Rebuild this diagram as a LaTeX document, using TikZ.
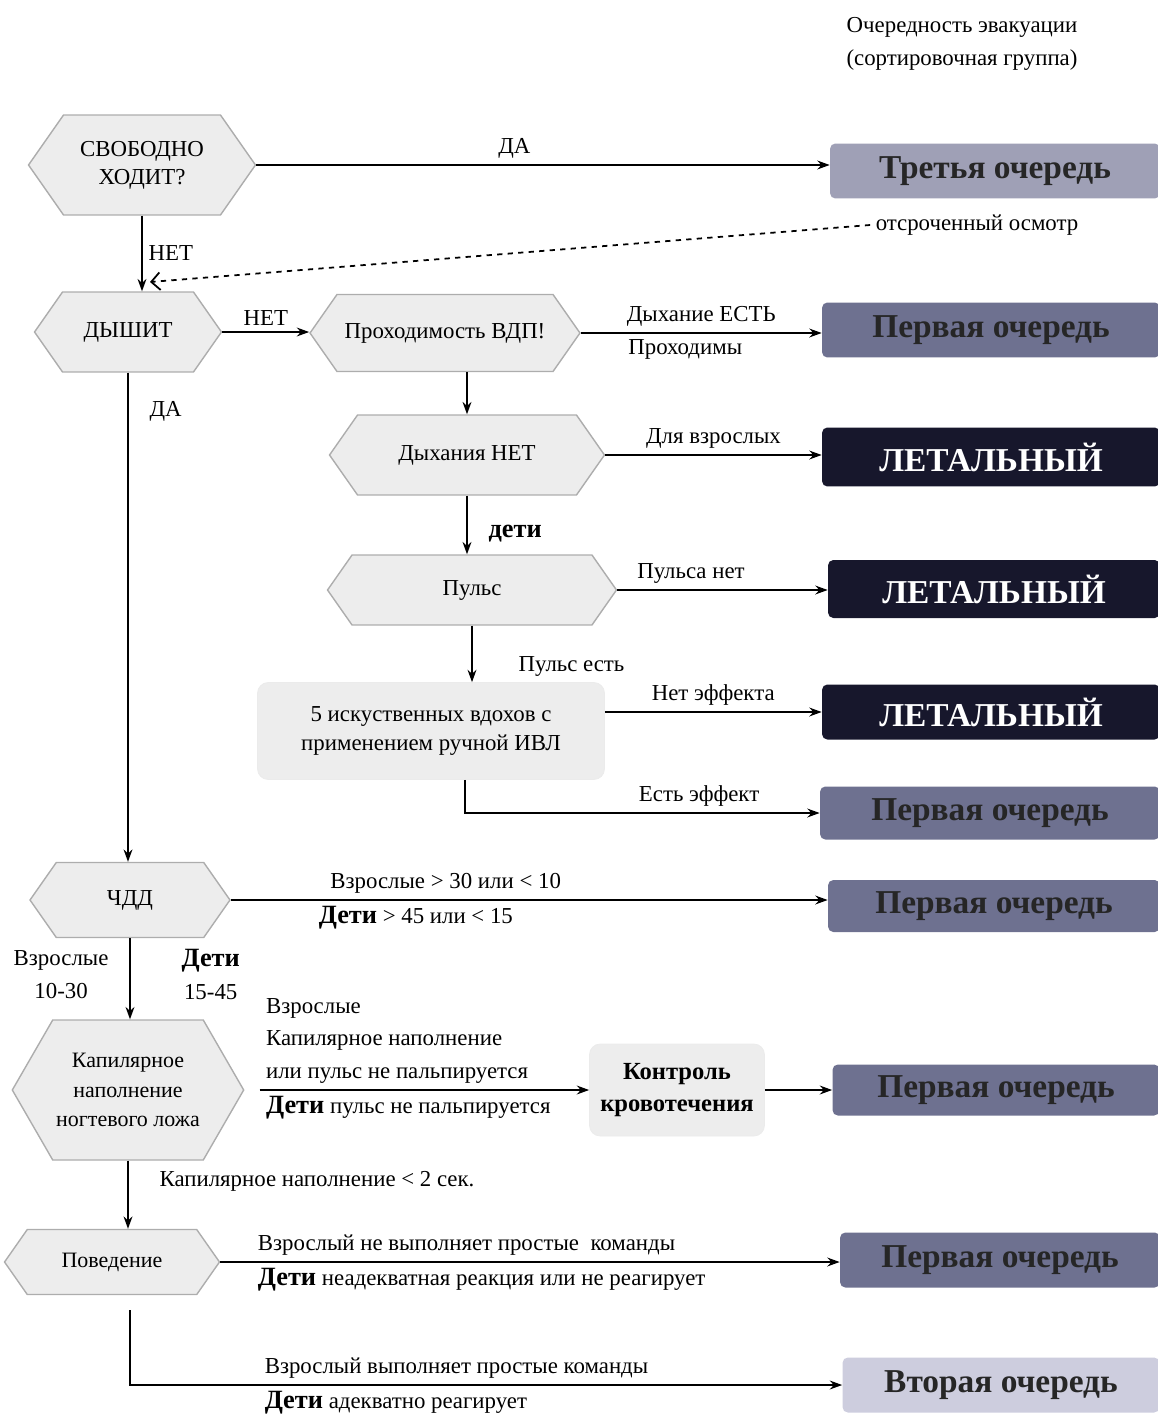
\documentclass[tikz,border=0pt]{standalone}
\usepackage{fontspec}
\setmainfont{Liberation Serif}
\usetikzlibrary{positioning}
\usetikzlibrary{calc}
\usetikzlibrary{shapes.symbols}
\usetikzlibrary{arrows.meta}

\definecolor{hexfill}{HTML}{EDEDED}
\definecolor{hexline}{HTML}{ADADAD}
\definecolor{thirdq}{HTML}{9FA0B6}
\definecolor{firstq}{HTML}{6E7190}
\definecolor{lethalq}{HTML}{17172C}
\definecolor{secondq}{HTML}{CDCDDE}
\newcommand\kids{{\fontsize{15}{16}\selectfont\bfseries Дети}}

\begin{document}
\begin{tikzpicture}[x=0.02cm, y=-0.02cm, >={Stealth[length=7pt,width=5pt]},
  hexnode/.style={signal, signal to=west and east, signal pointer angle=110, draw=hexline, fill=hexfill, thick, align=center, font=\fontsize{13}{16}\selectfont, inner sep=2pt},
  softbox/.style={rectangle, rounded corners=6pt, fill=hexfill, draw=black!8, align=center, font=\fontsize{13}{17}\selectfont},
  qbox/.style={rectangle, rounded corners=3pt, minimum height=1.1cm, font=\fontsize{19}{22}\selectfont\bfseries, text=black!85},
  lbl/.style={font=\fontsize{13}{18.5}\selectfont, inner sep=3pt},
  conn/.style={line width=1.5pt, ->}]
  \useasboundingbox (0,0) rectangle (1157,1416);

  \node[lbl, align=center] (title) at (962,44) {Очередность эвакуации\\(сортировочная группа)};

  \node[hexnode, minimum width=4.54cm, minimum height=2cm] (free) at (142,165) {СВОБОДНО\\ХОДИТ?};
  \node[qbox, fill=thirdq, minimum width=6.6cm] (third) at (995,171) {Третья очередь};
  \node[lbl] (delay) at (977,225) {отсроченный осмотр};
  \coordinate (dtip) at (150,282);
  \node[hexnode, minimum width=3.74cm, minimum height=1.6cm] (breath) at (128,332) {ДЫШИТ};
  \node[hexnode, minimum width=5.4cm, minimum height=1.54cm] (airway) at (445,333) {Проходимость ВДП!};
  \node[qbox, fill=firstq, minimum width=6.76cm] (first1) at (991,330) {Первая очередь};
  \node[hexnode, minimum width=5.5cm, minimum height=1.6cm] (noair) at (467,455) {Дыхания НЕТ};
  \node[qbox, fill=lethalq, text=white, minimum width=6.76cm, minimum height=1.18cm] (lethal1) at (991,457) {ЛЕТАЛЬНЫЙ};
  \node[hexnode, minimum width=5.78cm, minimum height=1.4cm] (pulse) at (472,590) {Пульс};
  \node[qbox, fill=lethalq, text=white, minimum width=6.64cm, minimum height=1.16cm] (lethal2) at (994,589) {ЛЕТАЛЬНЫЙ};
  \node[softbox, minimum width=6.94cm, minimum height=1.94cm] (vent) at (431,731) {5 искуственных вдохов с\\применением ручной ИВЛ};
  \node[qbox, fill=lethalq, text=white, minimum width=6.76cm] (lethal3) at (991,712) {ЛЕТАЛЬНЫЙ};
  \node[qbox, fill=firstq, minimum width=6.8cm, minimum height=1.06cm] (first2) at (990,813) {Первая очередь};
  \node[hexnode, minimum width=4cm, minimum height=1.5cm] (rr) at (130,900) {ЧДД};
  \node[qbox, fill=firstq, minimum width=6.64cm, minimum height=1.04cm] (first3) at (994,906) {Первая очередь};
  \node[hexnode, signal pointer angle=120, minimum width=4.5cm, minimum height=2.8cm, font=\fontsize{12.5}{17}\selectfont] (capfill) at (128,1090) {Капилярное\\наполнение\\ногтевого ложа};
  \node[softbox, font=\fontsize{14}{18}\selectfont\bfseries, minimum width=3.5cm, minimum height=1.84cm] (bleed) at (677,1090) {Контроль\\кровотечения};
  \node[qbox, fill=firstq, minimum width=6.54cm, minimum height=1.02cm] (first4) at (996,1090) {Первая очередь};
  \node[hexnode, minimum width=4.3cm, minimum height=1.3cm, font=\fontsize{12.5}{16}\selectfont] (behav) at (112,1262) {Поведение};
  \node[qbox, fill=firstq, minimum width=6.4cm] (first5) at (1000,1260) {Первая очередь};
  \node[qbox, fill=secondq, minimum width=6.34cm] (second) at (1001,1385) {Вторая очередь};

  \draw[conn] (free.east) -- (free.east -| third.west) node[lbl, pos=0.45, above] {ДА};
  \draw[conn] (free.south) -- (free.south |- breath.north) node[lbl, midway, right] {НЕТ};
  \draw[dashed, line width=1pt, -{Straight Barb[length=5pt]}] (delay.west) -- (dtip);
  \draw[conn] (breath.east) -- (breath.east -| airway.west) node[lbl, midway, above] {НЕТ};
  \draw[conn] (airway.east) -- (airway.east -| first1.west) node[lbl, midway, above] {Дыхание ЕСТЬ} node[lbl, pos=0.17, below right] {Проходимы};
  \draw[conn] (airway.south -| noair.north) -- (noair.north);
  \draw[conn] (noair.east) -- (noair.east -| lethal1.west) node[lbl, midway, above] {Для взрослых};
  \draw[conn] (noair.south) -- (noair.south |- pulse.north) node[lbl, pos=0.65, right=0.3cm, font=\fontsize{15}{18}\selectfont\bfseries] {дети};
  \draw[conn] (pulse.east) -- (pulse.east -| lethal2.west) node[lbl, pos=0.35, above] {Пульса нет};
  \draw[conn] (pulse.south) -- (pulse.south |- vent.north) node[lbl, pos=0.72, right=0.8cm] {Пульс есть};
  \draw[conn] (vent.east |- lethal3.west) -- (lethal3.west) node[lbl, midway, above] {Нет эффекта};
  \draw[conn] ($(vent.south)+(34,0)$) |- (first2.west) node[lbl, pos=0.83, above] {Есть эффект};
  \draw[conn] (breath.south) -- (breath.south |- rr.north) node[lbl, pos=0.08, right=0.3cm] {ДА};
  \draw[conn] (rr.east) -- (rr.east -| first3.west) node[lbl, pos=0.36, above] {Взрослые > 30 или < 10} node[lbl, pos=0.31, below] {\kids{} > 45 или < 15};
  \draw[conn] (rr.south) -- (rr.south |- capfill.north) node[lbl, pos=0.45, left=0.3cm, align=center] {Взрослые\\10-30} node[lbl, pos=0.45, right=0.9cm, align=center] {\kids\\15-45};
  \draw[conn] ($(capfill.east)+(15,0)$) -- (bleed.west) node[lbl, pos=0, above right, align=left] {Взрослые\\Капилярное наполнение\\или пульс не пальпируется} node[lbl, pos=0, below right] {\kids{} пульс не пальпируется};
  \draw[conn] (bleed.east) -- (first4.west);
  \draw[conn] (capfill.south) -- (capfill.south |- behav.north) node[lbl, pos=0.3, right=0.5cm] {Капилярное наполнение < 2 сек.};
  \draw[conn] (behav.east) -- (behav.east -| first5.west) node[lbl, pos=0.05, above right] {Взрослый не выполняет простые\ \ команды} node[lbl, pos=0.05, below right] {\kids{} неадекватная реакция или не реагирует};
  \draw[conn] ($(behav.south)+(18,15)$) |- (second.west) node[lbl, pos=0.59, above right] {Взрослый выполняет простые команды} node[lbl, pos=0.59, below right] {\kids{} адекватно реагирует};
\end{tikzpicture}
\end{document}
